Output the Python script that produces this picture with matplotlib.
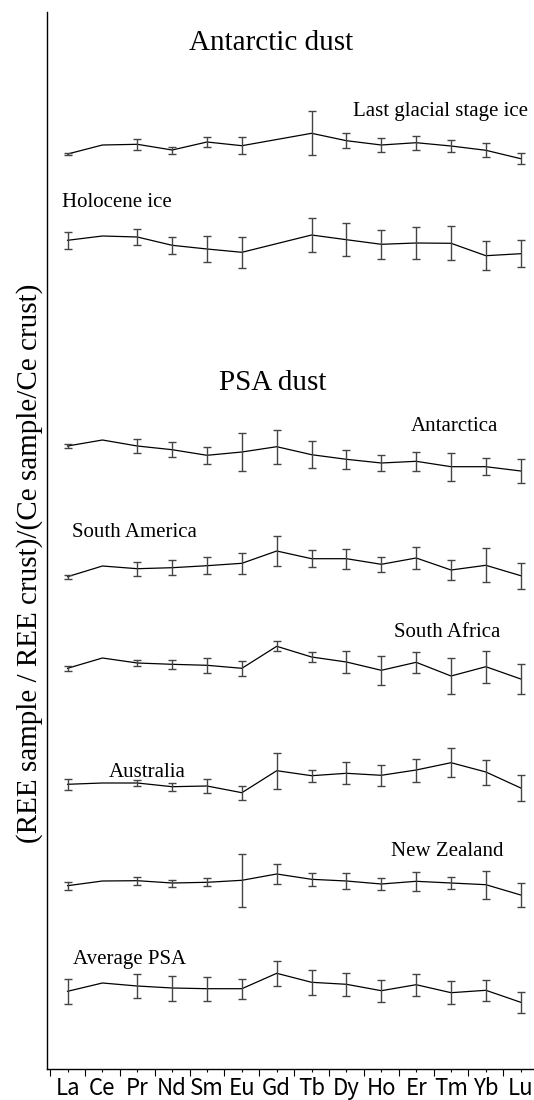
import numpy as np
import matplotlib.pyplot as plt

# REE pattern, normalised to crust and to Ce (Ce = 1)
elements = ['La', 'Ce', 'Pr', 'Nd', 'Sm', 'Eu', 'Gd', 'Tb', 'Dy', 'Ho', 'Er', 'Tm', 'Yb', 'Lu']
nan = np.nan

last_glacial = [0.91, 1.0, 1.007, 0.95, 1.03, 0.993, nan, 1.117, 1.043, 1.0, 1.023, 0.99, 0.947, 0.863]
last_glacial_err = [0.013, 0, 0.058, 0.035, 0.053, 0.085, nan, 0.22, 0.075, 0.067, 0.07, 0.062, 0.07, 0.057]

holocene = [0.957, 1.0, 0.99, 0.907, 0.87, 0.837, nan, 1.01, 0.963, 0.917, 0.93, 0.927, 0.803, 0.823]
holocene_err = [0.088, 0, 0.083, 0.085, 0.128, 0.155, nan, 0.173, 0.163, 0.148, 0.163, 0.17, 0.147, 0.137]

antarctica = [0.94, 1.0, 0.94, 0.903, 0.847, 0.88, 0.933, 0.853, 0.807, 0.77, 0.787, 0.733, 0.733, 0.69]
antarctica_err = [0.018, 0, 0.067, 0.073, 0.083, 0.187, 0.172, 0.135, 0.095, 0.08, 0.092, 0.142, 0.083, 0.115]

south_america = [0.893, 1.0, 0.973, 0.983, 1.003, 1.027, 1.15, 1.073, 1.073, 1.017, 1.08, 0.96, 1.007, 0.903]
south_america_err = [0.018, 0, 0.068, 0.073, 0.083, 0.102, 0.153, 0.083, 0.098, 0.073, 0.11, 0.102, 0.17, 0.128]

south_africa = [0.897, 1.0, 0.95, 0.937, 0.927, 0.897, 1.117, 1.01, 0.96, 0.877, 0.957, 0.82, 0.913, 0.79]
south_africa_err = [0.022, 0, 0.032, 0.045, 0.075, 0.077, 0.05, 0.053, 0.11, 0.142, 0.107, 0.182, 0.162, 0.153]

australia = [0.987, 1.0, 1.0, 0.963, 0.97, 0.903, 1.123, 1.073, 1.097, 1.077, 1.13, 1.203, 1.11, 0.95]
australia_err = [0.052, 0, 0.033, 0.04, 0.072, 0.072, 0.18, 0.06, 0.11, 0.105, 0.115, 0.143, 0.125, 0.128]

new_zealand = [0.953, 1.0, 1.003, 0.98, 0.987, 1.007, 1.07, 1.017, 1.0, 0.97, 0.997, 0.98, 0.963, 0.86]
new_zealand_err = [0.04, 0, 0.04, 0.035, 0.04, 0.263, 0.103, 0.068, 0.077, 0.06, 0.097, 0.06, 0.138, 0.122]

average_psa = [0.917, 1.0, 0.97, 0.95, 0.943, 0.943, 1.097, 1.007, 0.987, 0.923, 0.983, 0.903, 0.927, 0.807]
average_psa_err = [0.125, 0, 0.123, 0.125, 0.122, 0.098, 0.128, 0.122, 0.112, 0.11, 0.11, 0.115, 0.108, 0.103]

series = [last_glacial, holocene, antarctica, south_america, south_africa, australia, new_zealand, average_psa]
errors = [last_glacial_err, holocene_err, antarctica_err, south_america_err, south_africa_err,
          australia_err, new_zealand_err, average_psa_err]
# vertical shift of each pattern so they stack
offsets = [8.24, 7.33, 5.29, 4.03, 3.11, 1.86, 0.88, -0.14]

plt.rcParams['font.family'] = ['Liberation Serif', 'DejaVu Serif']

fig = plt.figure(figsize=(5.34, 11), dpi=100)
ax = fig.add_axes([47 / 534, 1 - 1069 / 1100, 1 - 47 / 534, (1069 - 12) / 1100])

x = np.arange(len(elements))
for vals, errs, off in zip(series, errors, offsets):
    y = np.array(vals, dtype=float) + off
    e = np.array(errs, dtype=float)
    ok = ~np.isnan(y)
    ax.plot(x[ok], y[ok], color='black', lw=0.9)
    has = ok & (e > 0)
    ax.errorbar(x[has], y[has], yerr=e[has], fmt='none', ecolor='#444444',
                elinewidth=1.0, capsize=2.6, capthick=1.0)

# labels
ax.text(5.85, 10.19, 'Antarctic dust', fontsize=21, ha='center', va='baseline')
ax.text(13.22, 9.53, 'Last glacial stage ice', fontsize=15, ha='right', va='baseline')
ax.text(-0.17, 8.62, 'Holocene ice', fontsize=15, ha='left', va='baseline')
ax.text(5.87, 6.79, 'PSA dust', fontsize=21, ha='center', va='baseline')
ax.text(12.35, 6.38, 'Antarctica', fontsize=15, ha='right', va='baseline')
ax.text(0.12, 5.32, 'South America', fontsize=15, ha='left', va='baseline')
ax.text(12.41, 4.32, 'South Africa', fontsize=15, ha='right', va='baseline')
ax.text(1.17, 2.92, 'Australia', fontsize=15, ha='left', va='baseline')
ax.text(12.51, 2.13, 'New Zealand', fontsize=15, ha='right', va='baseline')
ax.text(0.17, 1.05, 'Average PSA', fontsize=15, ha='left', va='baseline')

fig.text(30 / 534, 1 - 563 / 1100, '(REE sample / REE crust)/(Ce sample/Ce crust)',
         fontsize=21, rotation=90, ha='center', va='center')

ax.set_xlim(-0.59, 13.38)
ax.set_ylim(0, 10.57)
ax.set_yticks([])
ax.set_xticks(x - 0.5)
ax.set_xticklabels([])
ax.set_xticks(x, minor=True)
ax.set_xticklabels(elements, minor=True, fontsize=16, family=['Noto Sans CJK JP', 'DejaVu Sans'])
ax.tick_params(axis='x', which='major', length=5, width=0.8, direction='out')
ax.tick_params(axis='x', which='minor', length=2.5, width=0.8, direction='out', pad=3)
ax.spines['top'].set_visible(False)
ax.spines['right'].set_visible(False)
ax.spines['left'].set_linewidth(1.0)
ax.spines['bottom'].set_linewidth(1.0)

fig.savefig('out.png', dpi=100)
